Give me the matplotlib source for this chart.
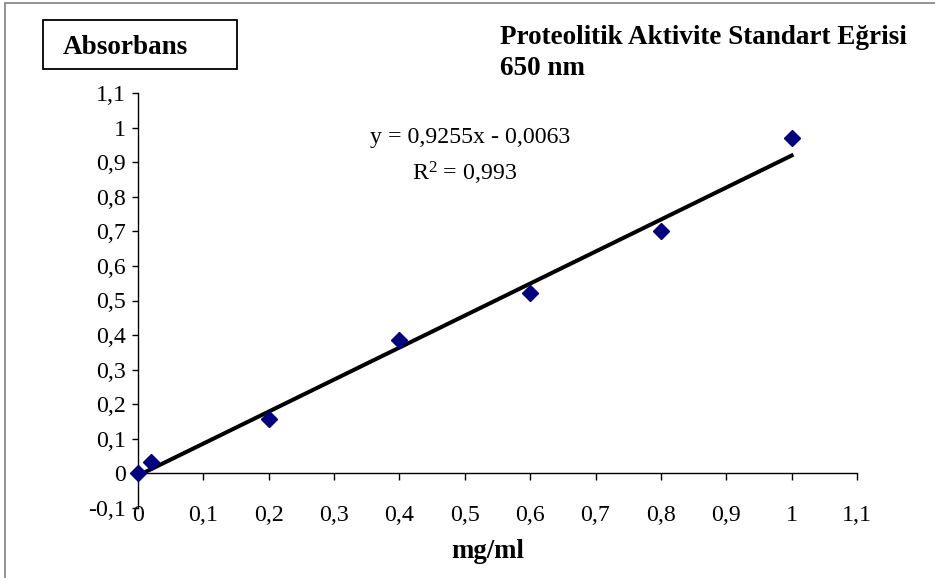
import numpy as np
import matplotlib
matplotlib.use("Agg")
import matplotlib.pyplot as plt
from matplotlib.patches import Rectangle

plt.rcParams['font.family'] = ['Liberation Serif', 'DejaVu Serif']
plt.rcParams['mathtext.fontset'] = 'custom'
plt.rcParams['mathtext.rm'] = 'Liberation Serif'
plt.rcParams['mathtext.default'] = 'regular'

# data
conc = np.array([0, 0.02, 0.2, 0.4, 0.6, 0.8, 1.0])
absorb = np.array([0, 0.032, 0.157, 0.385, 0.523, 0.70, 0.97])
slope = 0.9255
intercept = -0.0063
r2 = 0.993

x_ticks = np.round(np.arange(0, 1.11, 0.1), 1)
y_ticks = np.round(np.arange(-0.1, 1.11, 0.1), 1)

def comma(v):
    return f"{v:g}".replace('.', ',')

W, H = 935, 578
fig = plt.figure(figsize=(W / 100, H / 100), dpi=100)
ax = fig.add_axes([138 / W, 1 - 508 / H, (857 - 138) / W, (508 - 93) / H])

ax.plot(conc, absorb, 'D', color='#000080', ms=8.5, zorder=4, clip_on=False)
fx = np.array([0, 1.0])
ax.plot(fx, slope * fx + intercept, color='black', lw=2.9, zorder=3)

ax.set_xlim(0, 1.1)
ax.set_ylim(-0.1, 1.1)
for s in ['top', 'right']:
    ax.spines[s].set_visible(False)
ax.spines['bottom'].set_position(('data', 0))
ax.spines['bottom'].set_linewidth(1.0)
ax.spines['left'].set_linewidth(1.0)

ax.set_xticks(x_ticks)
ax.set_xticklabels([comma(v) for v in x_ticks])
ax.set_yticks(y_ticks)
ax.set_yticklabels([comma(v) for v in y_ticks])
ax.tick_params(axis='x', direction='out', length=5, width=1, pad=17.5, labelsize=17.2)
ax.tick_params(axis='y', direction='out', length=4.5, width=1, pad=4, labelsize=17.2)

ax.text(0.508, 0.972, f"y = {comma(slope)}x - {comma(-intercept)}", fontsize=17.2,
        ha='center', va='center')
ax.text(0.50, 0.868, f"R$^{{2}}$ = {comma(r2)}", fontsize=17.2, ha='center', va='center')

fig.text(488 / W, 1 - 551 / H, "mg/ml", fontsize=19.3, fontweight='bold', ha='center', va='center')
fig.text(500 / W, 1 - 44 / H, "Proteolitik Aktivite Standart Eğrisi", fontsize=19.5,
         fontweight='bold', ha='left', va='baseline')
fig.text(500 / W, 1 - 75 / H, "650 nm", fontsize=19.5, fontweight='bold', ha='left', va='baseline')

fig.patches.append(Rectangle((43 / W, 1 - 69 / H), 194 / W, 49 / H, transform=fig.transFigure,
                             fill=False, edgecolor='black', lw=1.3))
fig.text(125 / W, 1 - 47 / H, "Absorbans", fontsize=19.5, fontweight='bold', ha='center', va='center')

fig.patches.append(Rectangle((5 / W, -0.05), 1.2, 1.05 - 3 / H, transform=fig.transFigure,
                             fill=False, edgecolor='#808080', lw=1.2))

fig.savefig("out.png", dpi=100)
